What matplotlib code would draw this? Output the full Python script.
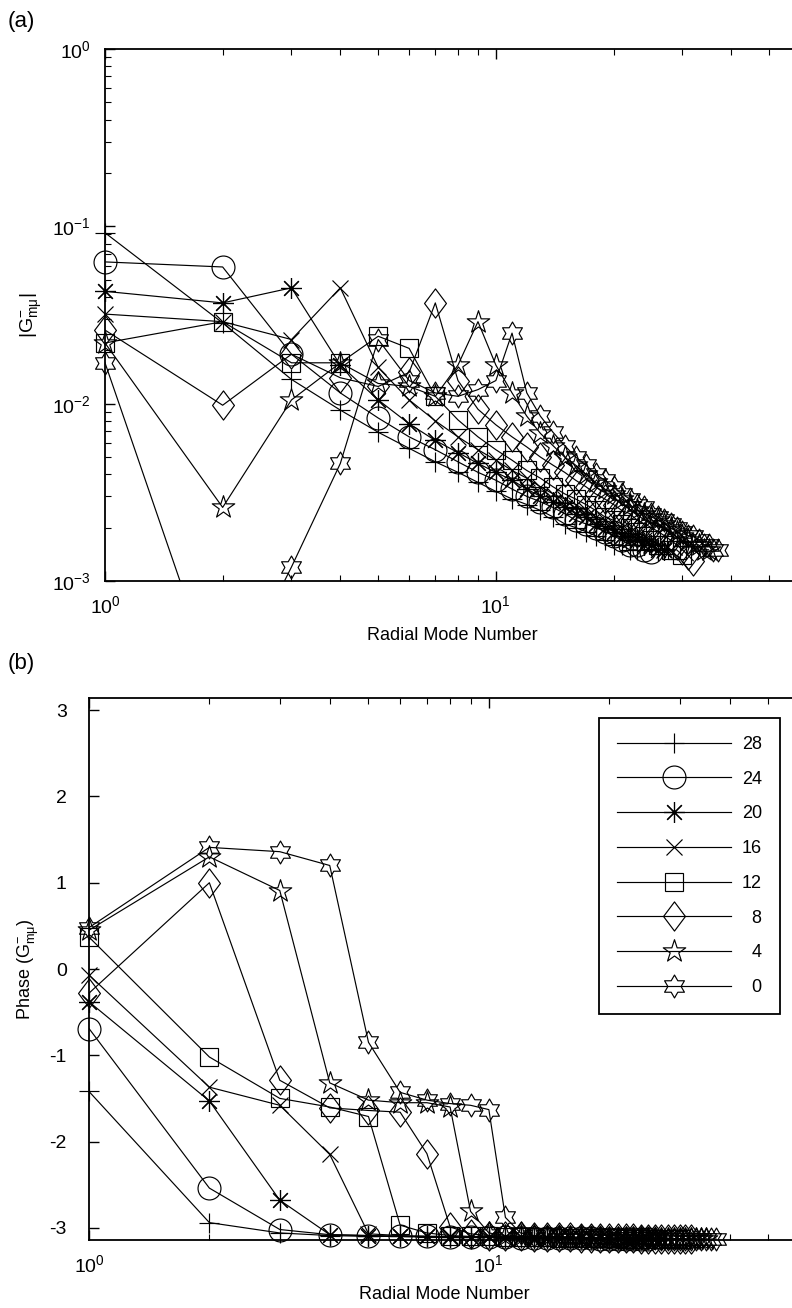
import numpy as np
import matplotlib
matplotlib.use('Agg')
import matplotlib.pyplot as plt
from matplotlib.path import Path
from matplotlib.lines import Line2D

plt.rcParams['font.family'] = ['Liberation Sans', 'DejaVu Sans']
plt.rcParams['mathtext.fontset'] = 'custom'
plt.rcParams['mathtext.rm'] = 'Liberation Sans'
plt.rcParams['mathtext.it'] = 'Liberation Sans:italic'
plt.rcParams['mathtext.sf'] = 'Liberation Sans'
plt.rcParams['axes.unicode_minus'] = False

# azimuthal orders, in legend order
orders = ['28', '24', '20', '16', '12', '8', '4', '0']

# |G| against radial mode number 1..N for each azimuthal order
mag_m28 = [0.092, 0.0285, 0.0137, 0.0092, 0.0069, 0.0056, 0.0047, 0.0041, 0.0036, 0.0032,
           0.0029, 0.0027, 0.0025, 0.0023, 0.0021, 0.0020, 0.0019, 0.0018, 0.0017, 0.0016,
           0.0016, 0.0015, 0.0015]
mag_m24 = [0.063, 0.059, 0.019, 0.0115, 0.0083, 0.0065, 0.0055, 0.0047, 0.0041, 0.0037,
           0.0033, 0.0030, 0.0028, 0.0026, 0.0024, 0.0022, 0.0021, 0.0020, 0.0019, 0.0018,
           0.0017, 0.0016, 0.0016, 0.0015, 0.00145]
mag_m20 = [0.043, 0.037, 0.045, 0.0165, 0.0105, 0.0077, 0.0062, 0.0053, 0.0046, 0.0041,
           0.0037, 0.0033, 0.0030, 0.0028, 0.0026, 0.0024, 0.0023, 0.0021, 0.0020, 0.0019,
           0.0018, 0.0017, 0.0017, 0.0016, 0.0016, 0.0015, 0.0015]
mag_m16 = [0.032, 0.029, 0.023, 0.045, 0.016, 0.0105, 0.0080, 0.0065, 0.0055, 0.0048,
           0.0042, 0.0038, 0.0034, 0.0031, 0.0029, 0.0027, 0.0025, 0.0023, 0.0022, 0.0021,
           0.0020, 0.0019, 0.0018, 0.0017, 0.0016, 0.0016, 0.0015, 0.0015]
mag_m12 = [0.022, 0.029, 0.017, 0.017, 0.024, 0.0205, 0.011, 0.0081, 0.0065, 0.0055,
           0.0048, 0.0042, 0.0038, 0.0034, 0.0031, 0.0029, 0.0027, 0.0025, 0.0023, 0.0022,
           0.0021, 0.0020, 0.0019, 0.0018, 0.0017, 0.0016, 0.0016, 0.0015, 0.0015, 0.0014]
mag_m8 = [0.026, 0.0098, 0.019, 0.014, 0.0125, 0.015, 0.037, 0.0135, 0.0093, 0.0076,
          0.0065, 0.0057, 0.0050, 0.0045, 0.0041, 0.0037, 0.0034, 0.0031, 0.0029, 0.0027,
          0.0025, 0.0024, 0.0022, 0.0021, 0.0020, 0.0019, 0.0018, 0.0017, 0.0016, 0.0015,
          0.0014, 0.0013]
mag_m4 = [0.022, 0.0026, 0.0105, 0.017, 0.013, 0.0125, 0.011, 0.0165, 0.029, 0.0165,
          0.0115, 0.0085, 0.0068, 0.0058, 0.0050, 0.0045, 0.0040, 0.0036, 0.0033, 0.0031,
          0.0029, 0.0027, 0.0025, 0.0024, 0.0023, 0.0022, 0.0021, 0.0020, 0.0019, 0.0018,
          0.0017, 0.0016, 0.0016, 0.0015, 0.0015]
mag_m0 = [0.017, 0.0002, 0.0012, 0.0046, 0.023, 0.0135, 0.0115, 0.011, 0.012, 0.0135,
          0.025, 0.0115, 0.0085, 0.0069, 0.0058, 0.0050, 0.0045, 0.0040, 0.0037, 0.0034,
          0.0031, 0.0029, 0.0027, 0.0026, 0.0024, 0.0023, 0.0022, 0.0021, 0.0020, 0.0019,
          0.0018, 0.0018, 0.0017, 0.0016, 0.0016, 0.0015, 0.0015]

# phase of G (rad)
ph_m28 = [-1.42, -2.94, -3.06, -3.09, -3.10, -3.10, -3.11, -3.11, -3.11, -3.11,
          -3.12, -3.12, -3.12, -3.12, -3.12, -3.12, -3.12, -3.13, -3.13, -3.13,
          -3.13, -3.13, -3.13]
ph_m24 = [-0.69, -2.54, -3.02, -3.08, -3.09, -3.10, -3.10, -3.11, -3.11, -3.11,
          -3.11, -3.12, -3.12, -3.12, -3.12, -3.12, -3.12, -3.12, -3.13, -3.13,
          -3.13, -3.13, -3.13, -3.13, -3.13]
ph_m20 = [-0.38, -1.53, -2.68, -3.08, -3.09, -3.10, -3.10, -3.11, -3.11, -3.11,
          -3.11, -3.11, -3.12, -3.12, -3.12, -3.12, -3.12, -3.12, -3.12, -3.13,
          -3.13, -3.13, -3.13, -3.13, -3.13, -3.13, -3.13]
ph_m16 = [-0.07, -1.37, -1.58, -2.15, -3.07, -3.09, -3.10, -3.10, -3.11, -3.11,
          -3.11, -3.11, -3.12, -3.12, -3.12, -3.12, -3.12, -3.12, -3.12, -3.12,
          -3.13, -3.13, -3.13, -3.13, -3.13, -3.13, -3.13, -3.13]
ph_m12 = [0.37, -1.02, -1.50, -1.60, -1.71, -2.97, -3.06, -3.09, -3.10, -3.10,
          -3.11, -3.11, -3.11, -3.11, -3.12, -3.12, -3.12, -3.12, -3.12, -3.12,
          -3.12, -3.13, -3.13, -3.13, -3.13, -3.13, -3.13, -3.13, -3.13, -3.13]
ph_m8 = [-0.28, 1.00, -1.29, -1.61, -1.64, -1.66, -2.14, -2.99, -3.07, -3.09,
         -3.10, -3.10, -3.11, -3.11, -3.11, -3.11, -3.12, -3.12, -3.12, -3.12,
         -3.12, -3.12, -3.12, -3.13, -3.13, -3.13, -3.13, -3.13, -3.13, -3.13,
         -3.13, -3.13]
ph_m4 = [0.45, 1.30, 0.91, -1.32, -1.52, -1.55, -1.55, -1.60, -2.81, -3.06,
         -3.09, -3.10, -3.10, -3.11, -3.11, -3.11, -3.11, -3.12, -3.12, -3.12,
         -3.12, -3.12, -3.12, -3.12, -3.13, -3.13, -3.13, -3.13, -3.13, -3.13,
         -3.13, -3.13, -3.13, -3.13, -3.13]
ph_m0 = [0.48, 1.41, 1.36, 1.20, -0.85, -1.43, -1.52, -1.56, -1.58, -1.63,
         -2.88, -3.06, -3.09, -3.10, -3.10, -3.11, -3.11, -3.11, -3.11, -3.12,
         -3.12, -3.12, -3.12, -3.12, -3.12, -3.12, -3.13, -3.13, -3.13, -3.13,
         -3.13, -3.13, -3.13, -3.13, -3.13, -3.13, -3.13]

mags = [mag_m28, mag_m24, mag_m20, mag_m16, mag_m12, mag_m8, mag_m4, mag_m0]
phases = [ph_m28, ph_m24, ph_m20, ph_m16, ph_m12, ph_m8, ph_m4, ph_m0]


def star_path(npts, inner):
    k = np.arange(2 * npts)
    ang = np.pi / 2 + k * np.pi / npts
    rad = np.where(k % 2 == 0, 1.0, inner)
    verts = np.column_stack([rad * np.cos(ang), rad * np.sin(ang)])
    verts = np.vstack([verts, verts[:1]])
    codes = [Path.MOVETO] + [Path.LINETO] * (2 * npts - 1) + [Path.CLOSEPOLY]
    return Path(verts, codes)


diamond = Path([(0, 1), (0.75, 0), (0, -1), (-0.75, 0), (0, 1)],
               [Path.MOVETO, Path.LINETO, Path.LINETO, Path.LINETO, Path.CLOSEPOLY])

# marker, size (pt)
styles = [('+', 15), ('o', 16.5), ((8, 2, 0), 15), ('x', 11.5), ('s', 13),
          (diamond, 21), (star_path(5, 0.382), 17), (star_path(6, 0.577), 16.5)]

LW = 0.85


def draw_series(ax, ys, lo, hi):
    for vals, (mk, ms) in zip(ys, styles):
        vals = np.asarray(vals, dtype=float)
        mu = np.arange(1, len(vals) + 1)
        ax.plot(mu, vals, color='k', lw=LW, clip_on=True)
        shown = np.where((vals >= lo) & (vals <= hi), vals, np.nan)
        ax.plot(mu, shown, linestyle='none', marker=mk, ms=ms, mfc='none',
                mec='k', mew=LW, clip_on=False)


def style_axes(ax, ypad):
    for sp in ax.spines.values():
        sp.set_linewidth(1.3)
    ax.tick_params(which='both', direction='in', top=True, right=False,
                   labelsize=14, colors='k')
    ax.tick_params(which='major', length=7, width=1.0)
    ax.tick_params(which='minor', length=4, width=0.8)
    ax.tick_params(axis='y', pad=ypad)
    ax.tick_params(axis='x', pad=10)


fig = plt.figure(figsize=(7.92, 13.08), dpi=100)
W, H = 792.0, 1308.0

# (a) magnitude
ax1 = fig.add_axes([105 / W, 1 - 581 / H, 695 / W, 532 / H])
ax1.set_xscale('log')
ax1.set_yscale('log')
draw_series(ax1, mags, 1e-3, 1.0)
ax1.set_xlim(1, 60)
ax1.set_ylim(1e-3, 1.0)
style_axes(ax1, 10)
ax1.set_xlabel('Radial Mode Number', fontsize=13, labelpad=7)
ax1.set_ylabel(r'$|\mathrm{G}^{-}_{\mathrm{m\mu}}|$', fontsize=14, labelpad=6)

# (b) phase
ax2 = fig.add_axes([89 / W, 1 - 1240 / H, 711 / W, 542 / H])
ax2.set_xscale('log')
draw_series(ax2, phases, -np.pi, np.pi)
ax2.set_xlim(1, 60)
ax2.set_ylim(-np.pi, np.pi)
ax2.set_yticks([-3, -2, -1, 0, 1, 2, 3])
style_axes(ax2, 16)
ax2.set_xlabel('Radial Mode Number', fontsize=13, labelpad=7)
ax2.set_ylabel(r'Phase $(\mathrm{G}^{-}_{\mathrm{m\mu}})$', fontsize=13, labelpad=6)

handles = [Line2D([], [], color='k', lw=LW, marker=mk, ms=ms, mfc='none', mec='k', mew=LW)
           for mk, ms in styles]
labels = [('  ' + o) if len(o) == 1 else o for o in orders]
leg = ax2.legend(handles, labels, loc='upper right', bbox_to_anchor=(0.972, 0.963),
                 fontsize=13, numpoints=1, handlelength=6.3, handletextpad=0.6,
                 borderpad=1.0, labelspacing=0.98, fancybox=False, framealpha=1,
                 edgecolor='k', borderaxespad=0)
leg.get_frame().set_linewidth(1.3)

fig.text(8 / W, 1 - 22 / H, '(a)', fontsize=16, va='center', ha='left')
fig.text(8 / W, 1 - 663 / H, '(b)', fontsize=16, va='center', ha='left')

fig.savefig('out.png', dpi=100)
